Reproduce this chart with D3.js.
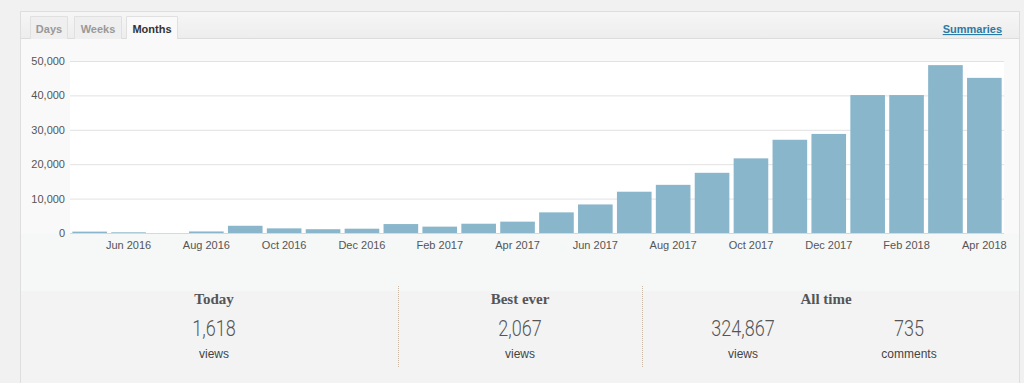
<!DOCTYPE html>
<html>
<head>
<meta charset="utf-8">
<script src="https://cdn.jsdelivr.net/npm/d3@7"></script>
<style>
  html, body { margin: 0; padding: 0; background: #f1f1f1; }
  svg { display: block; }
  .axis text { font-family: "Liberation Sans", Arial, sans-serif; font-size: 11px; fill: #555; }
  .axis .domain { display: none; }
</style>
</head>
<body>
<div class="canvas"></div>
<script>
// data
const months = [
  "May 2016", "Jun 2016", "Jul 2016", "Aug 2016", "Sep 2016", "Oct 2016",
  "Nov 2016", "Dec 2016", "Jan 2017", "Feb 2017", "Mar 2017", "Apr 2017",
  "May 2017", "Jun 2017", "Jul 2017", "Aug 2017", "Sep 2017", "Oct 2017",
  "Nov 2017", "Dec 2017", "Jan 2018", "Feb 2018", "Mar 2018", "Apr 2018"
];
const views = [
  400, 200, 0, 450, 2100, 1350, 1100, 1250, 2600, 1850, 2700, 3300,
  6000, 8300, 12000, 14000, 17500, 21700, 27100, 28800, 40100, 40100, 48800, 45100
];
const xTickLabels = [
  "Jun 2016", "Aug 2016", "Oct 2016", "Dec 2016", "Feb 2017", "Apr 2017",
  "Jun 2017", "Aug 2017", "Oct 2017", "Dec 2017", "Feb 2018", "Apr 2018"
];
const yTicks = [0, 10000, 20000, 30000, 40000, 50000];
const tabs = ["Days", "Weeks", "Months"];
const activeTab = "Months";
const statTitles = ["Today", "Best ever", "All time"];
const statValues = ["1,618", "2,067", "324,867", "735"];
const statUnits = ["views", "views", "views", "comments"];

const dims = { width: 1024, height: 383 };
const plot = { left: 70, right: 1004, top: 61, bottom: 233 };

const svg = d3
  .select(".canvas")
  .append("svg")
  .attr("width", dims.width)
  .attr("height", dims.height);

let defs = svg.append("defs");
let hdrGrad = defs.append("linearGradient").attr("id", "hdr").attr("x1", 0).attr("y1", 0).attr("x2", 0).attr("y2", 1);
hdrGrad.append("stop").attr("offset", "0%").attr("stop-color", "#f6f6f6");
hdrGrad.append("stop").attr("offset", "100%").attr("stop-color", "#ededed");

// panel
svg.append("rect").attr("x", 20.5).attr("y", 11.5).attr("width", 999).attr("height", 380)
  .attr("fill", "#f9f9f9").attr("stroke", "#dedede");
// header
svg.append("rect").attr("x", 21).attr("y", 12).attr("width", 998).attr("height", 26).attr("fill", "url(#hdr)");
svg.append("line").attr("x1", 21).attr("x2", 1019).attr("y1", 38.5).attr("y2", 38.5).attr("stroke", "#dcdcdc");

// tabs
const tabPos = [{ x: 30, w: 38 }, { x: 74, w: 48 }, { x: 126, w: 52 }];
tabs.forEach((t, i) => {
  const p = tabPos[i];
  const active = t === activeTab;
  svg.append("path")
    .attr("d", `M${p.x + 0.5},39 V16.5 H${p.x + p.w - 0.5} V39`)
    .attr("fill", active ? "#f9f9f9" : "#efefef")
    .attr("stroke", "#e0e0e0");
  if (active) {
    svg.append("rect").attr("x", p.x + 1).attr("y", 37).attr("width", p.w - 2).attr("height", 3).attr("fill", "#f9f9f9");
  }
  svg.append("text")
    .attr("x", p.x + p.w / 2).attr("y", 33)
    .attr("text-anchor", "middle")
    .attr("font-family", "Liberation Sans, Arial, sans-serif")
    .attr("font-size", 11).attr("font-weight", "bold")
    .attr("fill", active ? "#333" : "#999")
    .text(t);
});

svg.append("text")
  .attr("x", 1002).attr("y", 33)
  .attr("text-anchor", "end")
  .attr("font-family", "Liberation Sans, Arial, sans-serif")
  .attr("font-size", 11).attr("font-weight", "bold")
  .attr("fill", "#2a7aa6")
  .attr("text-decoration", "underline")
  .text("Summaries");

// band below axis + stats area
svg.append("rect").attr("x", 21).attr("y", 234).attr("width", 998).attr("height", 57).attr("fill", "#f6f7f7");
svg.append("rect").attr("x", 21).attr("y", 291).attr("width", 998).attr("height", 92).attr("fill", "#f3f3f3");

// scales
const x = d3.scaleBand().domain(months).range([plot.left, plot.right]).paddingInner(0.11).paddingOuter(0.06);
const y = d3.scaleLinear().domain([0, 50000]).range([plot.bottom, plot.top]);

// white plot bg
svg.append("rect")
  .attr("x", plot.left).attr("y", plot.top)
  .attr("width", plot.right - plot.left).attr("height", plot.bottom - plot.top)
  .attr("fill", "#fff");

// y axis with grid
const yAxis = svg.append("g")
  .attr("class", "axis")
  .attr("transform", `translate(${plot.left},0)`)
  .call(d3.axisLeft(y).tickValues(yTicks).tickSize(-(plot.right - plot.left)).tickPadding(5).tickFormat(d3.format(",")));
yAxis.selectAll("line").attr("stroke", "#e2e2e2");
yAxis.selectAll("line").filter((d) => d === 0).attr("stroke", "#d8d8d8");

// bars
svg.append("g")
  .selectAll("rect")
  .data(views)
  .enter()
  .append("rect")
  .attr("x", (d, i) => x(months[i]))
  .attr("y", (d) => y(d))
  .attr("width", x.bandwidth())
  .attr("height", (d) => y(0) - y(d))
  .attr("fill", "#89b6cb");

// x axis
const xAxis = svg.append("g")
  .attr("class", "axis")
  .attr("transform", `translate(0,${plot.bottom})`)
  .call(d3.axisBottom(x).tickValues(xTickLabels).tickSize(0).tickPadding(8));

// stats
const colCenters = [214, 520, 826];
const valCenters = [214, 520, 743, 909];
const divX = [398.5, 642.5];

divX.forEach((dx) => {
  svg.append("line")
    .attr("x1", dx).attr("x2", dx).attr("y1", 286).attr("y2", 367)
    .attr("stroke", "#c9b9a9").attr("stroke-dasharray", "1,1");
});

svg.selectAll(".stat-title")
  .data(statTitles)
  .enter()
  .append("text")
  .attr("class", "stat-title")
  .attr("x", (d, i) => colCenters[i]).attr("y", 304)
  .attr("text-anchor", "middle")
  .attr("font-family", "Liberation Serif, Georgia, serif")
  .attr("font-size", 15).attr("font-weight", "bold")
  .attr("fill", "#555")
  .text((d) => d);

// narrow light numerals, like the original's Helvetica Neue Light
svg.selectAll(".stat-value")
  .data(statValues)
  .enter()
  .append("text")
  .attr("class", "stat-value")
  .attr("transform", (d, i) => `translate(${valCenters[i]},336) scale(0.82,1)`)
  .attr("text-anchor", "middle")
  .attr("font-family", "Roboto, Helvetica, sans-serif")
  .attr("font-size", 22).attr("font-weight", 300)
  .attr("fill", "#555")
  .text((d) => d);

svg.selectAll(".stat-unit")
  .data(statUnits)
  .enter()
  .append("text")
  .attr("class", "stat-unit")
  .attr("x", (d, i) => valCenters[i]).attr("y", 358)
  .attr("text-anchor", "middle")
  .attr("font-family", "Liberation Sans, Arial, sans-serif")
  .attr("font-size", 12)
  .attr("fill", "#444")
  .text((d) => d);
</script>
</body>
</html>
